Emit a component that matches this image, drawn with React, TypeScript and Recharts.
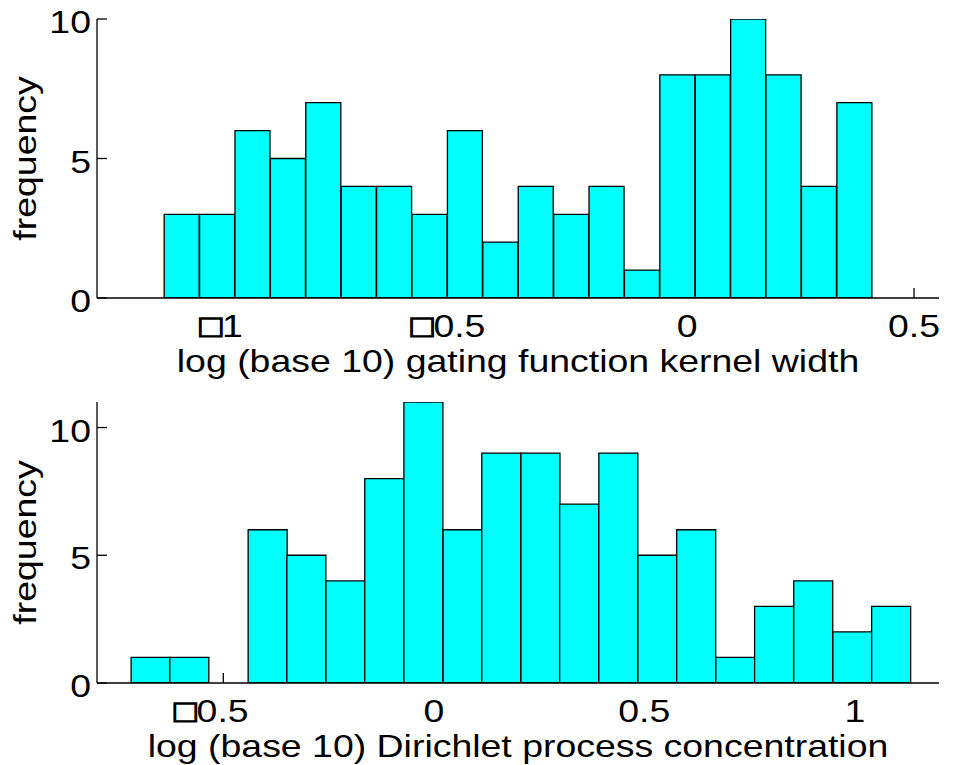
import React from 'react';
import { ComposedChart, Bar, XAxis, YAxis } from 'recharts';

// ---- top panel: gating function kernel width ----
const kernelBinCenters = [
  -1.113, -1.035, -0.957, -0.879, -0.801, -0.723, -0.645, -0.567, -0.489, -0.411,
  -0.333, -0.255, -0.177, -0.099, -0.021, 0.057, 0.135, 0.213, 0.291, 0.369,
];
const kernelCounts = [3, 3, 6, 5, 7, 4, 4, 3, 6, 2, 4, 3, 4, 1, 8, 8, 10, 8, 4, 7];
const kernelXTicks = [-1, -0.5, 0, 0.5];
const kernelXTickLabels = ['□1', '□0.5', '0', '0.5'];
const kernelXDomain = [-1.3, 0.555];
const kernelYTicks = [0, 5, 10];
const kernelYDomain = [0, 10];
const kernelXLabel = 'log (base 10) gating function kernel width';

// ---- bottom panel: Dirichlet process concentration ----
const dirichletBinCenters = [
  -0.673, -0.581, -0.488, -0.395, -0.303, -0.21, -0.118, -0.025, 0.068, 0.16,
  0.253, 0.345, 0.438, 0.531, 0.623, 0.716, 0.808, 0.901, 0.994, 1.086,
];
const dirichletCounts = [1, 1, 0, 6, 5, 4, 8, 11, 6, 9, 9, 7, 9, 5, 6, 1, 3, 4, 2, 3];
const dirichletXTicks = [-0.5, 0, 0.5, 1];
const dirichletXTickLabels = ['□0.5', '0', '0.5', '1'];
const dirichletXDomain = [-0.8, 1.2];
const dirichletYTicks = [0, 5, 10];
const dirichletYDomain = [0, 11];
const dirichletXLabel = 'log (base 10) Dirichlet process concentration';

const yLabel = 'frequency';

const FONT = '"Liberation Sans", Arial, Helvetica, sans-serif';
const FS = 32;
const SX = 1.17;
const BAR_FILL = '#00FFFF';
const INK = '#000000';

const topData = kernelBinCenters.map((x, i) => ({ x, count: kernelCounts[i] }));
const bottomData = dirichletBinCenters.map((x, i) => ({ x, count: dirichletCounts[i] }));

// a tick mark is hidden when a (non-empty) bar is drawn over it, as in the original
function coveredByBar(v: number, centers: number[], counts: number[]) {
  const half = (centers[1] - centers[0]) / 2;
  return centers.some((c, i) => counts[i] > 0 && Math.abs(v - c) < half);
}

function makeXTick(ticks: number[], labels: string[], centers: number[], counts: number[]) {
  return (props: any) => {
    const { x, y, payload } = props;
    const i = ticks.indexOf(payload.value);
    const label = i >= 0 ? labels[i] : String(payload.value);
    const boxed = label.startsWith('□');
    const shift = boxed ? -12 : 0;
    const hidden = coveredByBar(payload.value, centers, counts);
    return (
      <g>
        {!hidden && (
          <line x1={x} x2={x} y1={y} y2={y - 10} stroke={INK} strokeWidth={1.3} />
        )}
        <text
          transform={`translate(${x + shift},${y + 39}) scale(${SX},1)`}
          textAnchor="middle"
          fontSize={FS}
          fontFamily={FONT}
          fill={INK}
        >
          {boxed ? (
            <>
              <tspan stroke={INK} strokeWidth={1.2}>□</tspan>
              {label.slice(1)}
            </>
          ) : (
            label
          )}
        </text>
      </g>
    );
  };
}

function YTick(props: any) {
  const { x, y, payload } = props;
  return (
    <g>
      <line x1={x} x2={x + 10} y1={y} y2={y} stroke={INK} strokeWidth={1.3} />
      <text
        transform={`translate(${x - 6},${y + 14}) scale(${SX},1)`}
        textAnchor="end"
        fontSize={FS}
        fontFamily={FONT}
        fill={INK}
      >
        {payload.value}
      </text>
    </g>
  );
}

function makeXLabel(text: string) {
  return (props: any) => {
    const vb = props.viewBox || {};
    const cx = vb.x + vb.width / 2;
    return (
      <text
        transform={`translate(${cx},${vb.y + 74}) scale(${SX},1)`}
        textAnchor="middle"
        fontSize={FS}
        fontFamily={FONT}
        fill={INK}
      >
        {text}
      </text>
    );
  };
}

function makeYLabel(text: string) {
  return (props: any) => {
    const vb = props.viewBox || {};
    const cy = vb.y + vb.height / 2;
    return (
      <text
        transform={`translate(36,${cy}) rotate(-90) scale(${SX},1)`}
        textAnchor="middle"
        fontSize={FS}
        fontFamily={FONT}
        fill={INK}
      >
        {text}
      </text>
    );
  };
}

function Panel(props: {
  centers: number[];
  counts: number[];
  data: any[];
  xDomain: number[];
  xTicks: number[];
  xTickLabels: string[];
  yDomain: number[];
  yTicks: number[];
  xLabel: string;
  height: number;
  top: number;
}) {
  const { centers, counts, data, xDomain, xTicks, xTickLabels, yDomain, yTicks, xLabel, height, top } = props;
  return (
    <ComposedChart
      width={959}
      height={height}
      data={data}
      margin={{ top, right: 20, bottom: 0, left: 0 }}
      barCategoryGap={0}
      barGap={0}
    >
      <XAxis
        type="number"
        dataKey="x"
        domain={xDomain}
        ticks={xTicks}
        allowDataOverflow
        interval={0}
        height={82}
        tickLine={false}
        tickSize={0}
        tickMargin={0}
        axisLine={{ stroke: INK, strokeWidth: 1.3 }}
        tick={makeXTick(xTicks, xTickLabels, centers, counts)}
        label={makeXLabel(xLabel)}
      />
      <YAxis
        type="number"
        domain={yDomain}
        ticks={yTicks}
        allowDataOverflow
        interval={0}
        width={97}
        tickLine={false}
        tickSize={0}
        tickMargin={0}
        axisLine={{ stroke: INK, strokeWidth: 1.3 }}
        tick={YTick}
        label={makeYLabel(yLabel)}
      />
      <Bar
        dataKey="count"
        fill={BAR_FILL}
        stroke={INK}
        strokeWidth={1.3}
        isAnimationActive={false}
      />
    </ComposedChart>
  );
}

export default function App() {
  return (
    <div
      style={{
        position: 'absolute',
        left: 0,
        top: 0,
        width: 959,
        height: 765,
        background: '#fff',
        fontFamily: FONT,
      }}
    >
      <div style={{ position: 'absolute', left: 0, top: 0 }}>
        <Panel
          centers={kernelBinCenters}
          counts={kernelCounts}
          data={topData}
          xDomain={kernelXDomain}
          xTicks={kernelXTicks}
          xTickLabels={kernelXTickLabels}
          yDomain={kernelYDomain}
          yTicks={kernelYTicks}
          xLabel={kernelXLabel}
          height={380}
          top={19}
        />
      </div>
      <div style={{ position: 'absolute', left: 0, top: 382 }}>
        <Panel
          centers={dirichletBinCenters}
          counts={dirichletCounts}
          data={bottomData}
          xDomain={dirichletXDomain}
          xTicks={dirichletXTicks}
          xTickLabels={dirichletXTickLabels}
          yDomain={dirichletYDomain}
          yTicks={dirichletYTicks}
          xLabel={dirichletXLabel}
          height={383}
          top={20}
        />
      </div>
    </div>
  );
}
